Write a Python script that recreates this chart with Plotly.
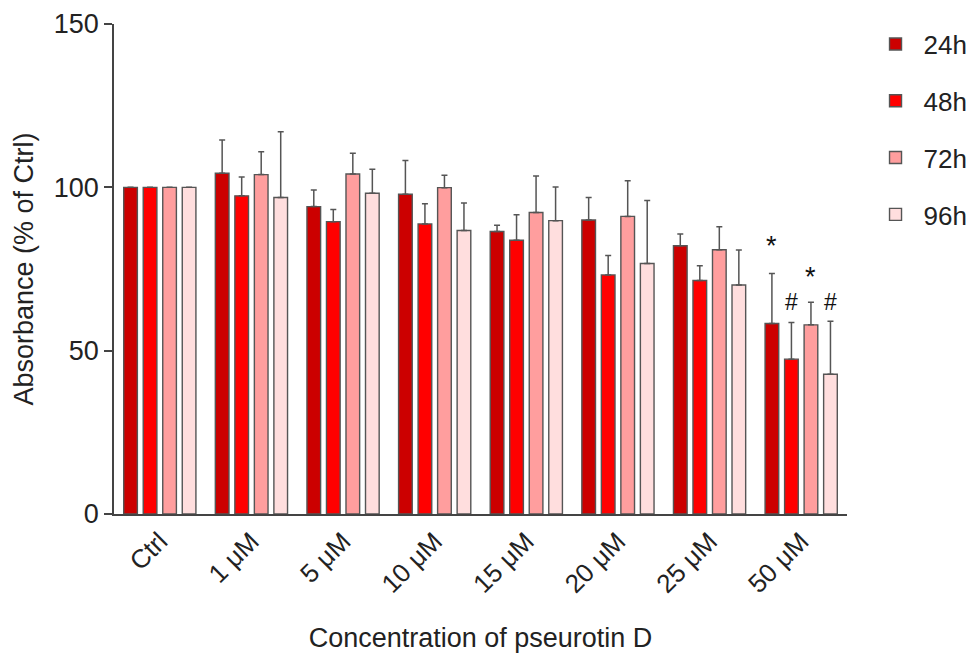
import plotly.graph_objects as go

categories = ["Ctrl", "1 μM", "5 μM", "10 μM", "15 μM", "20 μM", "25 μM", "50 μM"]
series_names = ["24h", "48h", "72h", "96h"]

mean_24h = [100, 104.3, 94.1, 97.9, 86.5, 90.0, 82.1, 58.3]
mean_48h = [100, 97.4, 89.5, 88.8, 83.8, 73.2, 71.5, 47.4]
mean_72h = [100, 103.9, 104.1, 99.9, 92.3, 91.1, 80.9, 57.9]
mean_96h = [100, 96.9, 98.2, 86.8, 89.8, 76.7, 70.1, 42.8]

err_24h = [0, 10.2, 5.1, 10.3, 1.9, 6.9, 3.6, 15.3]
err_48h = [0, 5.8, 3.7, 6.2, 7.8, 5.9, 4.5, 11.2]
err_72h = [0, 7.0, 6.3, 3.8, 11.2, 10.9, 7.0, 6.9]
err_96h = [0, 20.1, 7.3, 8.4, 10.3, 19.3, 10.7, 16.2]

colors = ["#CC0000", "#FF0000", "#FF9E9E", "#FFDEDE"]

# significance marks: (category, series index, label, y of glyph)
sig_category = ["50 μM", "50 μM", "50 μM", "50 μM"]
sig_series = [0, 1, 2, 3]
sig_label = ["*", "#", "*", "#"]
sig_y = [82.0, 65.0, 72.5, 65.0]

means = [mean_24h, mean_48h, mean_72h, mean_96h]
errs = [err_24h, err_48h, err_72h, err_96h]

FONT = "Liberation Sans, Arial, sans-serif"
# page body has an 8px margin, so the figure is a bit smaller than the window
W, H = 969, 645
ML, MR, MT, MB = 106, 130, 16, 139
BARGAP = 0.148
BARGROUPGAP = 0.3

fig = go.Figure()
for i, name in enumerate(series_names):
    fig.add_trace(go.Bar(
        x=categories, y=means[i], name=name,
        marker=dict(color=colors[i], line=dict(color="#555555", width=1.4)),
        error_y=dict(type="data", array=errs[i], arrayminus=[0] * len(categories),
                     symmetric=False, color="#555555", thickness=1.5, width=3),
        legendgroup=name,
    ))

# shift annotations to the bar slot of each series
plot_w = W - ML - MR
cat_w = plot_w / len(categories)
slot = cat_w * (1 - BARGAP) / len(series_names)
for c, s, lab, yv in zip(sig_category, sig_series, sig_label, sig_y):
    fig.add_annotation(x=c, y=yv, text=lab, showarrow=False,
                       xshift=(s - (len(series_names) - 1) / 2) * slot,
                       yanchor="middle",
                       font=dict(family=FONT, size=27 if lab == "*" else 23,
                                 color="#111111"))

fig.update_layout(
    width=W, height=H,
    margin=dict(l=ML, r=MR, t=MT, b=MB, autoexpand=False),
    paper_bgcolor="white", plot_bgcolor="white",
    barmode="group", bargap=BARGAP, bargroupgap=BARGROUPGAP,
    font=dict(family=FONT, size=26, color="#222222"),
    showlegend=True,
    legend=dict(x=1.028, y=1.007, xanchor="left", yanchor="top",
                font=dict(family=FONT, size=26, color="#222222"),
                tracegroupgap=20, itemwidth=46, bgcolor="rgba(0,0,0,0)"),
    xaxis=dict(
        showline=True, linecolor="#444444", linewidth=1.5,
        ticks="", tickangle=-45, showgrid=False, zeroline=False,
        tickfont=dict(family=FONT, size=26, color="#222222"),
        title=dict(text="Concentration of pseurotin D", standoff=30,
                   font=dict(family=FONT, size=27, color="#222222")),
    ),
    yaxis=dict(
        range=[0, 150], tickvals=[0, 50, 100, 150],
        showline=True, linecolor="#444444", linewidth=1.5,
        ticks="outside", ticklen=8, tickwidth=1.5, tickcolor="#444444",
        showgrid=False, zeroline=False,
        tickfont=dict(family=FONT, size=27, color="#222222"),
        title=dict(text="Absorbance (% of Ctrl)", standoff=12,
                   font=dict(family=FONT, size=27, color="#222222")),
    ),
)

fig.write_html("out.html")
